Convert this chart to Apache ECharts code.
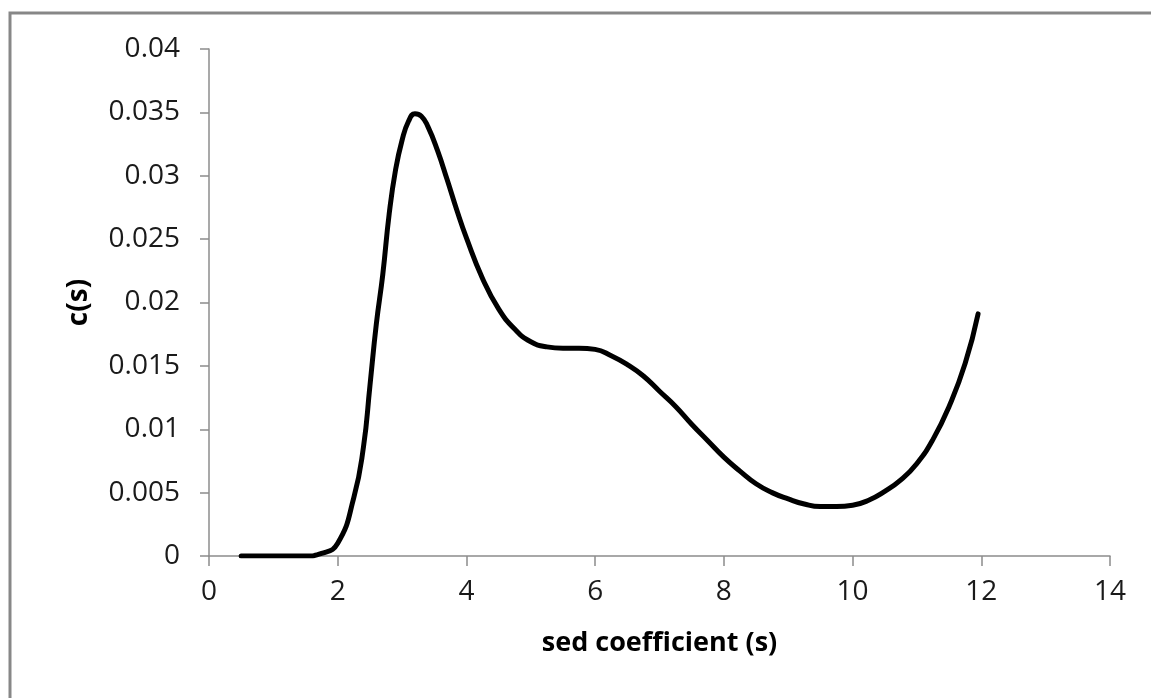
<!DOCTYPE html>
<html>
<head>
<meta charset="utf-8">
<script src="https://cdn.jsdelivr.net/npm/echarts@6/dist/echarts.min.js"></script>
<style>
  html, body { margin: 0; padding: 0; background: #fff; }
  #chart { width: 1151px; height: 698px; }
</style>
</head>
<body>
<div id="chart"></div>
<script>
// sedimentation coefficient (s) and c(s)
let sedValues = [0.5, 1.0, 1.5, 1.75, 2.0, 2.25, 2.4, 2.5, 2.6, 2.7, 2.8, 2.9, 3.0, 3.1, 3.2, 3.3, 3.4, 3.55, 3.7, 3.85, 4.0, 4.25, 4.5, 4.75, 5.0, 5.25, 5.5, 5.75, 6.0, 6.25, 6.5, 6.75, 7.0, 7.25, 7.5, 7.75, 8.0, 8.25, 8.5, 8.75, 9.0, 9.25, 9.5, 9.75, 10.0, 10.25, 10.5, 10.75, 11.0, 11.25, 11.5, 11.75, 11.95];
let csValues = [0, 0, 0, 0.0002, 0.001, 0.0046, 0.0086, 0.0134, 0.0183, 0.0222, 0.027, 0.0305, 0.0328, 0.0343, 0.0349, 0.0347, 0.0339, 0.032, 0.0297, 0.0273, 0.0251, 0.0219, 0.0195, 0.0179, 0.0169, 0.0165, 0.0164, 0.0164, 0.0163, 0.0158, 0.0151, 0.0142, 0.013, 0.0118, 0.0104, 0.0091, 0.0078, 0.0067, 0.0057, 0.005, 0.0045, 0.0041, 0.0039, 0.0039, 0.004, 0.0044, 0.0051, 0.006, 0.0073, 0.0092, 0.0118, 0.0152, 0.0191];
let xTicks = [0, 2, 4, 6, 8, 10, 12, 14];
let yTicks = [0, 0.005, 0.01, 0.015, 0.02, 0.025, 0.03, 0.035, 0.04];

let labelFont = '"Open Sans", "Liberation Sans", sans-serif';

let points = [];
for (let i = 0; i < sedValues.length; i++) {
    points.push([sedValues[i], csValues[i]]);
}

let myChart = echarts.init(document.getElementById('chart'));
const option = {
    backgroundColor: '#fff',
    animation: false,
    graphic: [
        {
            type: 'rect',
            shape: { x: 10, y: 13, width: 1300, height: 900 },
            style: { fill: null, stroke: '#878787', lineWidth: 3 }
        }
    ],
    grid: {
        left: 209,
        top: 49,
        right: 41,
        bottom: 142
    },
    xAxis: {
        type: 'value',
        min: xTicks[0],
        max: xTicks[xTicks.length - 1],
        interval: 2,
        name: 'sed coefficient (s)',
        nameLocation: 'middle',
        nameGap: 74,
        nameTextStyle: { fontFamily: labelFont, fontWeight: 'bold', fontSize: 27, color: '#000' },
        axisLine: { lineStyle: { color: '#8c8c8c', width: 1.5 } },
        axisTick: { show: true, length: 10, lineStyle: { color: '#8c8c8c', width: 1.5 } },
        axisLabel: { fontFamily: labelFont, fontSize: 28, color: '#1a1a1a', margin: 22 },
        splitLine: { show: false }
    },
    yAxis: {
        type: 'value',
        min: yTicks[0],
        max: yTicks[yTicks.length - 1],
        interval: 0.005,
        name: 'c(s)',
        nameLocation: 'middle',
        nameGap: 116,
        nameTextStyle: { fontFamily: labelFont, fontWeight: 'bold', fontSize: 28, color: '#000' },
        axisLine: { show: true, lineStyle: { color: '#8c8c8c', width: 1.5 } },
        axisTick: { show: true, length: 9, lineStyle: { color: '#8c8c8c', width: 1.5 } },
        axisLabel: { fontFamily: labelFont, fontSize: 28, color: '#1a1a1a', margin: 29 },
        splitLine: { show: false }
    },
    series: [
        {
            name: 'c(s)',
            type: 'line',
            data: points,
            smooth: 0.5,
            showSymbol: false,
            lineStyle: { color: '#000', width: 5, cap: 'round' }
        }
    ]
};
myChart.setOption(option);
</script>
</body>
</html>
